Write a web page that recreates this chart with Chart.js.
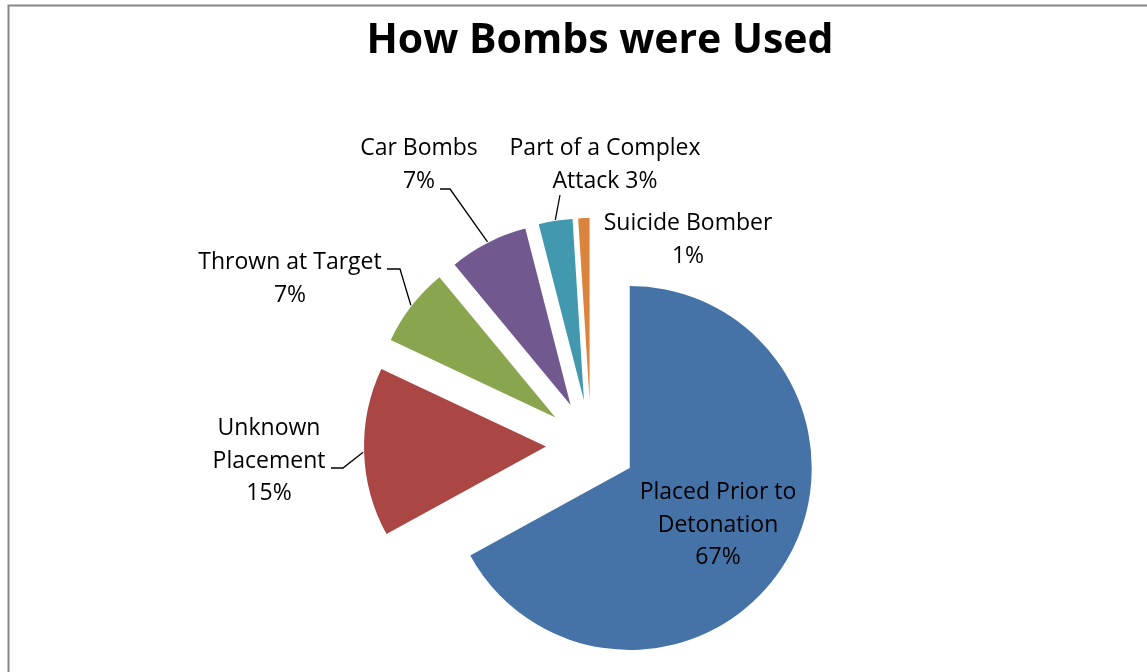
<!DOCTYPE html>
<html>
<head>
<meta charset="utf-8">
<title>How Bombs were Used</title>
<script src="https://cdn.jsdelivr.net/npm/chart.js@4.4.1/dist/chart.umd.min.js"></script>
<style>
    html, body { margin: 0; padding: 0; background: #fff; }
    #grafico { display: block; }
</style>
</head>
<body>
<canvas id="grafico" width="1147" height="672"></canvas>
<script>
// dados do gráfico
const categorias = ['Placed Prior to\nDetonation', 'Unknown\nPlacement', 'Thrown at Target', 'Car Bombs', 'Part of a Complex\nAttack', 'Suicide Bomber'];
const percentuais = [67, 15, 7, 7, 3, 1];
const cores = ['#4572A7', '#AA4643', '#89A54E', '#71588F', '#4198AF', '#DB843D'];

const titulo = 'How Bombs were Used';
const fonte = '"Open Sans", "Noto Sans", sans-serif';

// posição dos rótulos (primeira linha de base) e início das linhas guia
const rotulos = [
    { x: 718, y: 499, guia: null, inline: false },
    { x: 269, y: 435, guia: [[331, 468], [343, 468]], inline: false },
    { x: 290, y: 269, guia: [[387, 269], [400, 269]], inline: false },
    { x: 419, y: 155, guia: [[440, 189], [450, 189]], inline: false },
    { x: 605, y: 155, guia: [[560, 195]], inline: true },
    { x: 688, y: 230, guia: null, inline: false }
];

const afastamento = 45; // todas as fatias destacadas do centro

// borda cinza e título
const moldura = {
    id: 'moldura',
    beforeDraw(chart) {
        const c = chart.ctx;
        c.save();
        c.strokeStyle = '#868686';
        c.lineWidth = 2;
        c.strokeRect(8.5, 5.5, 1400, 900);
        c.fillStyle = '#000';
        c.font = 'bold 41px ' + fonte;
        c.textAlign = 'center';
        c.textBaseline = 'alphabetic';
        c.fillText(titulo, 600, 53);
        c.restore();
    }
};

// desloca cada fatia ao longo do seu ângulo médio
const explodir = {
    id: 'explodir',
    afterUpdate(chart) {
        chart.getDatasetMeta(0).data.forEach(arc => {
            const meio = (arc.startAngle + arc.endAngle) / 2;
            arc.x += Math.cos(meio) * afastamento;
            arc.y += Math.sin(meio) * afastamento;
        });
    }
};

// rótulos de dados com linhas guia
const rotulosDados = {
    id: 'rotulosDados',
    afterDatasetsDraw(chart) {
        const c = chart.ctx;
        const arcos = chart.getDatasetMeta(0).data;
        c.save();
        c.fillStyle = '#000';
        c.strokeStyle = '#000';
        c.lineWidth = 1.3;
        c.font = '23px ' + fonte;
        c.textAlign = 'center';
        c.textBaseline = 'alphabetic';
        arcos.forEach((arc, i) => {
            const r = rotulos[i];
            const linhas = categorias[i].split('\n');
            const pct = percentuais[i] + '%';
            if (r.inline) {
                linhas[linhas.length - 1] += ' ' + pct;
            } else {
                linhas.push(pct);
            }
            linhas.forEach((txt, k) => c.fillText(txt, r.x, r.y + k * 32.5));

            if (r.guia) {
                const meio = (arc.startAngle + arc.endAngle) / 2;
                const fimX = arc.x + Math.cos(meio) * (arc.outerRadius + 1);
                const fimY = arc.y + Math.sin(meio) * (arc.outerRadius + 1);
                c.beginPath();
                c.moveTo(r.guia[0][0], r.guia[0][1]);
                for (let k = 1; k < r.guia.length; k++) c.lineTo(r.guia[k][0], r.guia[k][1]);
                c.lineTo(fimX, fimY);
                c.stroke();
            }
        });
        c.restore();
    }
};

const ctx = document.getElementById('grafico').getContext('2d');
const grafico = new Chart(ctx, {
    type: 'pie',
    data: {
        labels: categorias,
        datasets: [{
            data: percentuais,
            backgroundColor: cores,
            borderWidth: 0,
            radius: 182,
            clip: false
        }]
    },
    options: {
        responsive: false,
        animation: false,
        events: [],
        layout: {
            padding: { left: 391, right: 356, top: 245, bottom: 27 }
        },
        plugins: {
            legend: { display: false },
            title: { display: false },
            tooltip: { enabled: false }
        }
    },
    plugins: [moldura, explodir, rotulosDados]
});
</script>
</body>
</html>
